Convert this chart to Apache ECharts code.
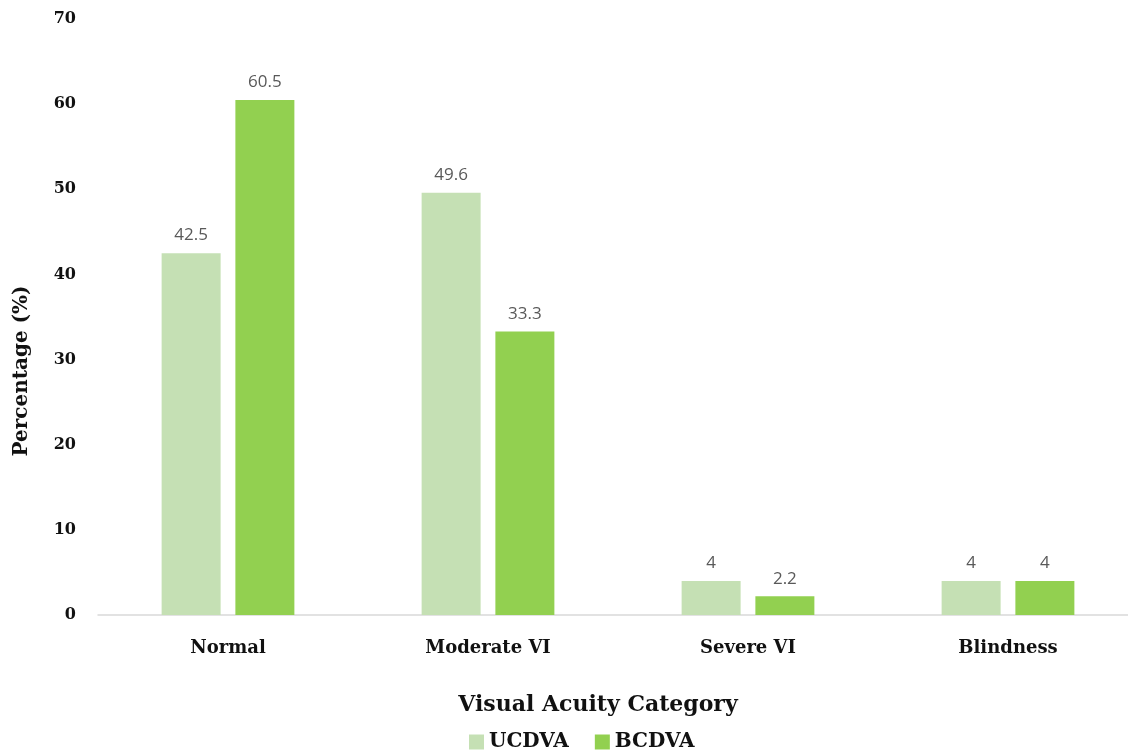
<!DOCTYPE html>
<html>
<head>
<meta charset="utf-8">
<script src="https://cdn.jsdelivr.net/npm/echarts@6/dist/echarts.min.js"></script>
<style>
  html, body { margin: 0; padding: 0; background: #fff; }
  #chart { width: 1128px; height: 753px; }
</style>
</head>
<body>
<div id="chart"></div>
<script>
// Visual acuity distribution, uncorrected vs best-corrected
const categories = ['Normal', 'Moderate VI', 'Severe VI', 'Blindness'];
const seriesNames = ['UCDVA', 'BCDVA'];
const ucdva = [42.5, 49.6, 4, 4];
const bcdva = [60.5, 33.3, 2.2, 4];

const serif = '"DejaVu Serif", "Liberation Serif", serif';
const sans = '"Open Sans", "Noto Sans", sans-serif';

const chart = echarts.init(document.getElementById('chart'));

const labelStyle = {
  show: true,
  position: 'top',
  distance: 9,
  fontFamily: sans,
  fontSize: 17,
  color: '#595959'
};

chart.setOption({
  backgroundColor: '#fff',
  animation: false,
  grid: {
    left: 98,
    top: 19,
    width: 1040,
    height: 596,
    containLabel: false,
    outerBoundsMode: 'none'
  },
  legend: {
    bottom: -4,
    left: 464,
    itemWidth: 15,
    itemHeight: 15,
    itemGap: 26,
    icon: 'rect',
    textStyle: { fontFamily: serif, fontSize: 20, fontWeight: 'bold', color: '#111' },
    data: seriesNames
  },
  xAxis: {
    type: 'category',
    data: categories,
    name: 'Visual Acuity Category',
    nameLocation: 'middle',
    nameGap: 79,
    nameTextStyle: { fontFamily: serif, fontSize: 22, fontWeight: 'bold', color: '#111', padding: [0, 40, 0, 0] },
    axisLine: { lineStyle: { color: '#d9d9d9', width: 1.5 } },
    axisTick: { show: false },
    axisLabel: { fontFamily: serif, fontSize: 18, fontWeight: 'bold', color: '#111', margin: 24 }
  },
  yAxis: {
    type: 'value',
    min: 0,
    max: 70,
    interval: 10,
    name: 'Percentage (%)',
    nameLocation: 'middle',
    nameGap: 66,
    nameRotate: 90,
    nameTextStyle: { fontFamily: serif, fontSize: 20, fontWeight: 'bold', color: '#111', padding: [0, 108, 0, 0] },
    axisLine: { show: false },
    axisTick: { show: false },
    splitLine: { show: false },
    axisLabel: { fontFamily: serif, fontSize: 16, fontWeight: 'bold', color: '#111', margin: 22 }
  },
  series: [
    {
      name: seriesNames[0],
      type: 'bar',
      data: ucdva,
      barWidth: 59,
      barGap: '25%',
      itemStyle: { color: '#c5e0b4' },
      label: labelStyle
    },
    {
      name: seriesNames[1],
      type: 'bar',
      data: bcdva,
      barWidth: 59,
      itemStyle: { color: '#92d050' },
      label: labelStyle
    }
  ]
});
</script>
</body>
</html>
